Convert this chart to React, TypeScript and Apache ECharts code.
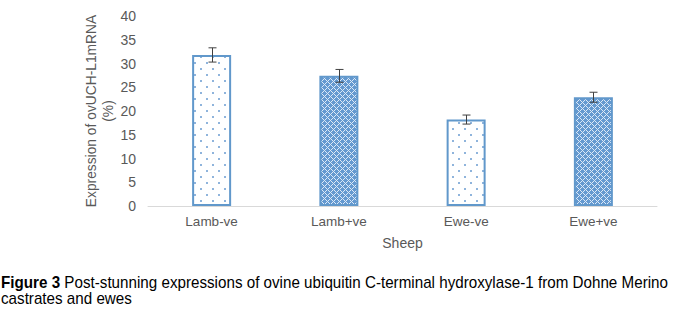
import React, { useEffect, useRef } from "react";
import * as echarts from "echarts";

const categories = ["Lamb-ve", "Lamb+ve", "Ewe-ve", "Ewe+ve"];
const values = [31.8, 27.4, 18.2, 22.9];
const errors = [1.5, 1.35, 0.95, 1.05];
const patterns = ["dots", "checker", "dots", "checker"];
const yTicks = { min: 0, max: 40, interval: 5 };
const xName = "Sheep";
const yName = "Expression of ovUCH-L1mRNA\n(%)";
const captionBold = "Figure 3";
const captionLine1 = " Post-stunning expressions of ovine ubiquitin C-terminal hydroxylase-1 from Dohne Merino";
const captionLine2 = "castrates and ewes";

const BORDER = "#6198CB";
const FONT = "'Liberation Sans', Arial, sans-serif";

function makeDots(): HTMLCanvasElement {
  const c = document.createElement("canvas");
  c.width = 12;
  c.height = 12;
  const g = c.getContext("2d")!;
  g.fillStyle = "#ffffff";
  g.fillRect(0, 0, 12, 12);
  g.fillStyle = "#8FB4DC";
  g.fillRect(2, 2, 2, 2);
  g.fillRect(8, 8, 2, 2);
  return c;
}

function makeChecker(): HTMLCanvasElement {
  const c = document.createElement("canvas");
  c.width = 6;
  c.height = 6;
  const g = c.getContext("2d")!;
  g.fillStyle = "#6499D0";
  g.fillRect(0, 0, 6, 6);
  g.fillStyle = "#DCE9F7";
  for (let x = 0; x < 6; x++) {
    for (let y = 0; y < 6; y++) {
      if ((x + y) % 6 === 0 || (x - y + 6) % 6 === 0) {
        g.fillRect(x, y, 1, 1);
      }
    }
  }
  return c;
}

export default function App() {
  const ref = useRef<HTMLDivElement>(null);

  useEffect(() => {
    if (!ref.current) return;
    const chart = echarts.init(ref.current, null, { renderer: "svg" });
    const dots = makeDots();
    const checker = makeChecker();

    const barData = values.map((v, i) => ({
      value: v,
      itemStyle: {
        color: {
          image: patterns[i] === "dots" ? dots : checker,
          repeat: "repeat",
          imageWidth: patterns[i] === "dots" ? 12 : 6,
          imageHeight: patterns[i] === "dots" ? 12 : 6,
        } as any,
        borderColor: BORDER,
        borderWidth: 2,
      },
    }));

    const errData = values.map((v, i) => [i, v - errors[i], v + errors[i]]);

    chart.setOption({
      animation: false,
      backgroundColor: "#ffffff",
      grid: { left: 148, right: 20, top: 16, bottom: 105 },
      xAxis: {
        type: "category",
        data: categories,
        name: xName,
        nameLocation: "middle",
        nameGap: 30,
        nameMoveOverlap: false,
        nameTextStyle: { color: "#595959", fontSize: 14, fontFamily: FONT },
        axisLine: { lineStyle: { color: "#D9D9D9", width: 1 } },
        axisTick: { show: false },
        axisLabel: { color: "#595959", fontSize: 13.5, fontFamily: FONT, margin: 8 },
      },
      yAxis: {
        type: "value",
        min: yTicks.min,
        max: yTicks.max,
        interval: yTicks.interval,
        name: yName,
        nameLocation: "middle",
        nameRotate: 90,
        nameGap: 31,
        nameMoveOverlap: false,
        nameTextStyle: { color: "#595959", fontSize: 13.8, fontFamily: FONT, lineHeight: 17 },
        axisLine: { show: false },
        axisTick: { show: false },
        splitLine: { show: false },
        axisLabel: { color: "#595959", fontSize: 14, fontFamily: FONT, margin: 12 },
      },
      series: [
        {
          type: "bar",
          data: barData,
          barWidth: 39,
          z: 2,
        },
        {
          type: "custom",
          z: 5,
          data: errData,
          renderItem: (params: any, api: any) => {
            const x = api.value(0);
            const lo = api.coord([x, api.value(1)]);
            const hi = api.coord([x, api.value(2)]);
            const cx = Math.round(hi[0]) + 0.5;
            const hw = 4;
            const st = { stroke: "#404040", lineWidth: 1 };
            return {
              type: "group",
              children: [
                { type: "line", shape: { x1: cx, y1: hi[1], x2: cx, y2: lo[1] }, style: st },
                { type: "line", shape: { x1: cx - hw, y1: hi[1], x2: cx + hw, y2: hi[1] }, style: st },
                { type: "line", shape: { x1: cx - hw, y1: lo[1], x2: cx + hw, y2: lo[1] }, style: st },
              ],
            };
          },
        },
      ],
      graphic: [
        {
          type: "text",
          x: 1,
          y: 282,
          scaleX: 0.95,
          style: {
            text: "{b|" + captionBold + "}" + captionLine1,
            fontSize: 16,
            fontFamily: FONT,
            fill: "#000000",
            verticalAlign: "middle",
            rich: {
              b: { fontSize: 16, fontFamily: FONT, fontWeight: "bold", fill: "#000000" },
            },
          },
        },
        {
          type: "text",
          x: 1,
          y: 298,
          scaleX: 0.95,
          style: {
            text: captionLine2,
            fontSize: 16,
            fontFamily: FONT,
            fill: "#000000",
            verticalAlign: "middle",
          },
        },
      ],
    });

    return () => chart.dispose();
  }, []);

  return (
    <div
      ref={ref}
      style={{ position: "absolute", left: 0, top: 0, width: 677, height: 311 }}
    />
  );
}
